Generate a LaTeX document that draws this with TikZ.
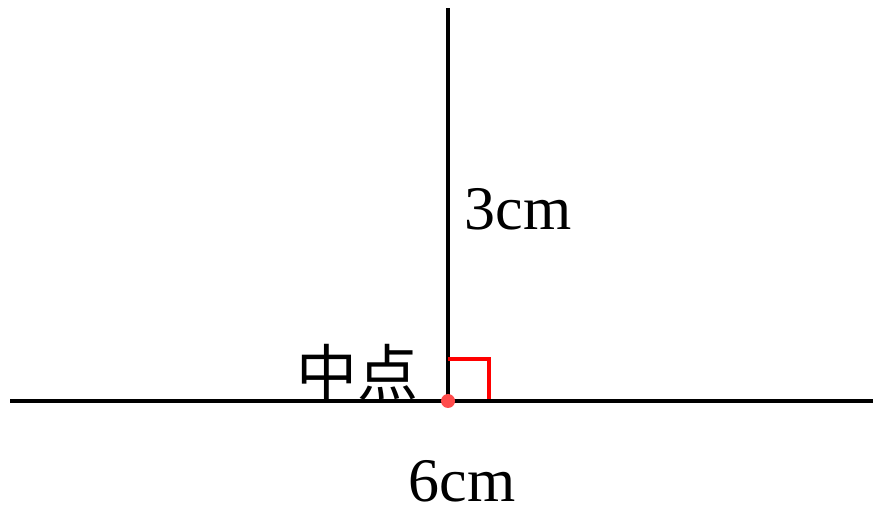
\documentclass[tikz,border=0pt]{standalone}
\usepackage{fontspec}
\setmainfont{Liberation Serif}
\newfontfamily\cjk{Noto Sans CJK SC}
\begin{document}
\begin{tikzpicture}[x=1pt, y=-1pt,
    seg/.style={line width=3.5pt, black},
    rightmark/.style={line width=3.5pt, red},
    midpt/.style={circle, fill=red!70!white, inner sep=0pt, minimum size=14pt},
    lbl/.style={inner sep=0pt, font=\fontsize{62}{62}\selectfont},
  ]
    \useasboundingbox (0,0) rectangle (873,510);

    \coordinate (L) at (10, 401);
    \coordinate (R) at (873, 401);
    \coordinate (M) at (448, 401);
    \coordinate (T) at (448, 8);
    \coordinate (a1) at (448, 359);
    \coordinate (a2) at (489, 359);
    \coordinate (a3) at (489, 399);

    \draw[seg] (L) -- (R);
    \draw[seg] (M) -- (T);
    \draw[rightmark] (a1) -- (a2) -- (a3);
    \node[midpt] (mp) at (M) {};

    \node[lbl, font=\cjk\fontsize{61}{61}\selectfont] (mid) at (357, 372) {中点};
    \node[lbl] (len3) at (518, 209) {3cm};
    \node[lbl] (len6) at (462, 481) {6cm};
  \end{tikzpicture}
\end{document}
